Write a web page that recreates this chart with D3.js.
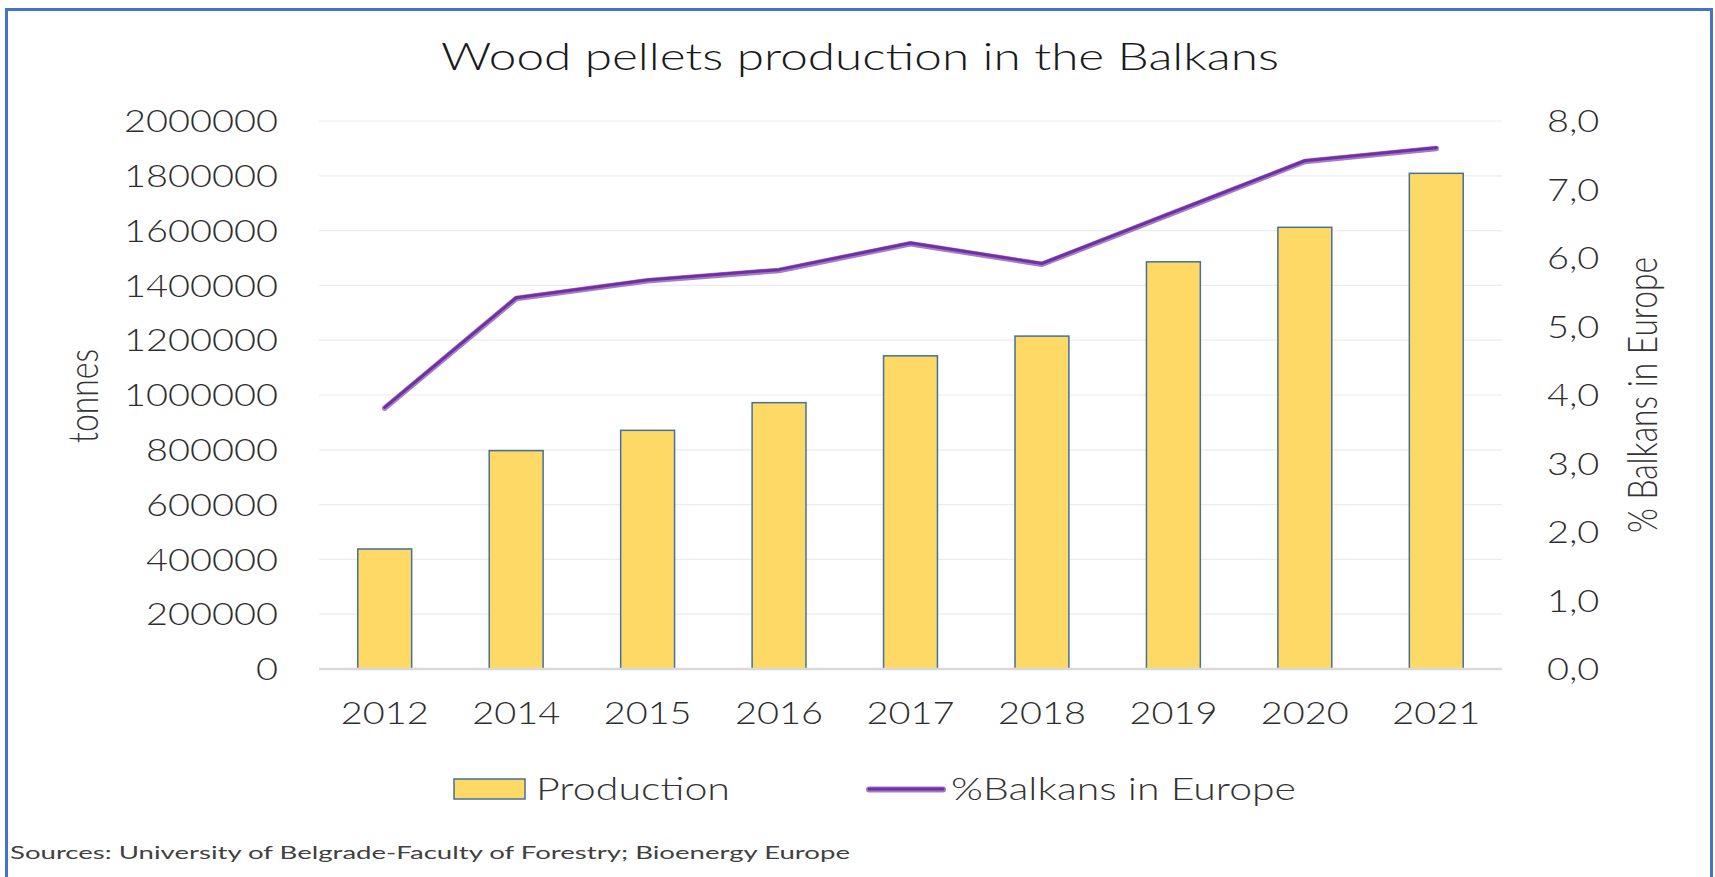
<!DOCTYPE html>
<html>
<head>
<meta charset="utf-8">
<script src="https://cdnjs.cloudflare.com/ajax/libs/d3/7.8.5/d3.min.js"></script>
<style>
  html, body { margin: 0; padding: 0; background: #fff; }
  svg { display: block; font-family: Lato, "Open Sans", sans-serif; font-weight: 300; }
</style>
</head>
<body>
<div id="chart"></div>
<script>
const years = ['2012', '2014', '2015', '2016', '2017', '2018', '2019', '2020', '2021']
const production = [438000, 797000, 871000, 972000, 1143000, 1215000, 1486000, 1612000, 1809000]
const balkanShare = [3.82, 5.42, 5.68, 5.83, 6.22, 5.92, 6.67, 7.42, 7.61]
const leftTicks = [0, 200000, 400000, 600000, 800000, 1000000, 1200000, 1400000, 1600000, 1800000, 2000000]
const rightTicks = [0, 1, 2, 3, 4, 5, 6, 7, 8]

const W = 1715, H = 877
const plot = { left: 319, right: 1502, top: 121, bottom: 669 }
const numSize = 30.5

const svg = d3.select('#chart').append('svg')
    .attr('width', W)
    .attr('height', H)

svg.append('rect')
    .attr('width', W).attr('height', H)
    .attr('fill', '#fff')

// stretch text horizontally (the reference is a widened screenshot)
function widen(sel, k) {
    sel.each(function () {
        const w = this.getComputedTextLength()
        this.setAttribute('textLength', w * k)
        this.setAttribute('lengthAdjust', 'spacingAndGlyphs')
    })
}
function fit(sel, target) {
    sel.attr('textLength', target).attr('lengthAdjust', 'spacingAndGlyphs')
}

const x = d3.scaleBand()
    .domain(years)
    .range([plot.left, plot.right])
    .paddingInner(0.59)
    .paddingOuter(0.295)

const yL = d3.scaleLinear()
    .domain([0, 2000000])
    .range([plot.bottom, plot.top])

const yR = d3.scaleLinear()
    .domain([0, 8])
    .range([plot.bottom, plot.top])

const comma = d3.formatLocale({ decimal: ',', thousands: '', grouping: [3], currency: ['', ''] })

// gridlines
svg.append('g')
    .selectAll('line')
    .data(leftTicks.slice(1))
    .enter()
    .append('line')
    .attr('x1', plot.left).attr('x2', plot.right)
    .attr('y1', d => yL(d)).attr('y2', d => yL(d))
    .attr('stroke', '#ececec')
    .attr('stroke-width', 1.2)

// bars
svg.append('g')
    .selectAll('rect')
    .data(production)
    .enter()
    .append('rect')
    .attr('x', (_, i) => x(years[i]))
    .attr('y', d => yL(d))
    .attr('width', x.bandwidth())
    .attr('height', d => plot.bottom - yL(d))
    .attr('fill', '#FFD966')
    .attr('stroke', '#41719C')
    .attr('stroke-width', 1.5)

// baseline
svg.append('line')
    .attr('x1', plot.left).attr('x2', plot.right)
    .attr('y1', plot.bottom).attr('y2', plot.bottom)
    .attr('stroke', '#d9d9d9')
    .attr('stroke-width', 2.5)

// share line
const line = d3.line()
    .x((_, i) => x(years[i]) + x.bandwidth() / 2)
    .y(d => yR(d))

svg.append('path')
    .datum(balkanShare)
    .attr('d', line)
    .attr('fill', 'none')
    .attr('stroke', '#a27ccb')
    .attr('stroke-width', 5.5)
    .attr('stroke-linecap', 'round')
    .attr('stroke-linejoin', 'round')
    .attr('transform', 'translate(0,0.8)')

svg.append('path')
    .datum(balkanShare)
    .attr('d', line)
    .attr('fill', 'none')
    .attr('stroke', '#7030A0')
    .attr('stroke-width', 3)
    .attr('stroke-linecap', 'round')
    .attr('stroke-linejoin', 'round')

// axes
const leftAxis = svg.append('g')
    .attr('transform', 'translate(' + plot.left + ',0)')
    .call(d3.axisLeft(yL).tickValues(leftTicks).tickFormat(d3.format('d')).tickSize(0).tickPadding(41))

const rightAxis = svg.append('g')
    .attr('transform', 'translate(' + plot.right + ',0)')
    .call(d3.axisRight(yR).tickValues(rightTicks).tickFormat(comma.format('.1f')).tickSize(0).tickPadding(45))

const bottomAxis = svg.append('g')
    .attr('transform', 'translate(0,' + plot.bottom + ')')
    .call(d3.axisBottom(x).tickSize(0).tickPadding(33))

;[leftAxis, rightAxis, bottomAxis].forEach(a => {
    a.select('.domain').remove()
    a.attr('font-family', null).attr('font-size', null)
    a.selectAll('text')
        .attr('font-size', numSize)
        .attr('fill', '#2e2e2e')
})
leftAxis.selectAll('text').attr('dy', '0.35em')
rightAxis.selectAll('text').attr('dy', '0.35em')

// numeric stretch factor from the widest left label
const sample = leftAxis.selectAll('text').filter(d => d === 2000000).node()
const kNum = 154 / sample.getComputedTextLength()
;[leftAxis, rightAxis, bottomAxis].forEach(a => widen(a.selectAll('text'), kNum))

// title
svg.append('text')
    .attr('x', 860).attr('y', 70)
    .attr('text-anchor', 'middle')
    .attr('font-size', 37.5)
    .attr('fill', '#1a1a1a')
    .text('Wood pellets production in the Balkans')
    .call(fit, 838)

// axis titles
svg.append('text')
    .attr('transform', 'translate(98,396) rotate(-90)')
    .attr('text-anchor', 'middle')
    .attr('font-size', 41)
    .attr('fill', '#333')
    .text('tonnes')
    .call(fit, 94)

svg.append('text')
    .attr('transform', 'translate(1657,395) rotate(-90)')
    .attr('text-anchor', 'middle')
    .attr('font-size', 41)
    .attr('fill', '#333')
    .text('% Balkans in Europe')
    .call(fit, 276)

// legend
const legend = svg.append('g')
legend.append('rect')
    .attr('x', 454).attr('y', 779)
    .attr('width', 71).attr('height', 20)
    .attr('fill', '#FFD966')
    .attr('stroke', '#41719C')
    .attr('stroke-width', 1.5)
legend.append('text')
    .attr('x', 536).attr('y', 800)
    .attr('font-size', numSize)
    .attr('fill', '#333')
    .text('Production')
    .call(fit, 194)

legend.append('line')
    .attr('x1', 869).attr('x2', 943)
    .attr('y1', 789.5).attr('y2', 789.5)
    .attr('stroke', '#a27ccb')
    .attr('stroke-width', 6)
    .attr('stroke-linecap', 'round')
legend.append('line')
    .attr('x1', 869).attr('x2', 943)
    .attr('y1', 789).attr('y2', 789)
    .attr('stroke', '#7030A0')
    .attr('stroke-width', 3)
    .attr('stroke-linecap', 'round')
legend.append('text')
    .attr('x', 951).attr('y', 800)
    .attr('font-size', numSize)
    .attr('fill', '#333')
    .text('%Balkans in Europe')
    .call(fit, 345)

// source note
svg.append('text')
    .attr('x', 10).attr('y', 859)
    .attr('font-size', 18)
    .attr('font-weight', 400)
    .attr('fill', '#404040')
    .text('Sources: University of Belgrade-Faculty of Forestry; Bioenergy Europe')
    .call(fit, 840)

// frame
svg.append('rect')
    .attr('x', 6.5).attr('y', 9.5)
    .attr('width', 1705).attr('height', 900)
    .attr('fill', 'none')
    .attr('stroke', '#4472C4')
    .attr('stroke-width', 3)
</script>
</body>
</html>
